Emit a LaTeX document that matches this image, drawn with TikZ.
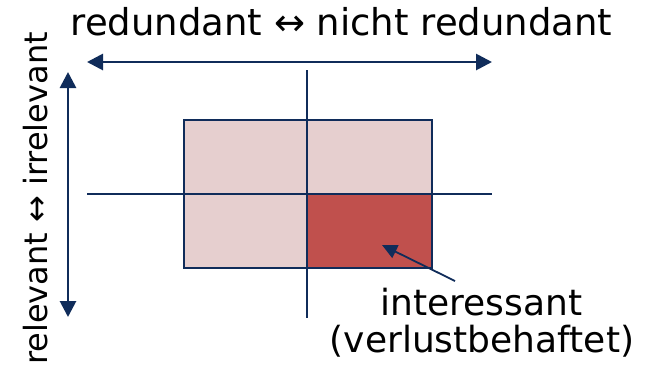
\documentclass[tikz,border=0pt]{standalone}
\usepackage{fontspec}
\setmainfont{DejaVu Sans}
\usetikzlibrary{arrows.meta}
\definecolor{navy}{RGB}{16,44,90}
\definecolor{lightred}{RGB}{230,207,207}
\definecolor{darkred}{RGB}{192,80,77}
\tikzset{
  bigarrow/.style={draw=navy, line width=2.8pt, {Triangle[length=16pt,width=16pt]}-{Triangle[length=16pt,width=16pt]}},
  gridline/.style={draw=navy, line width=1.8pt},
  pointer/.style={draw=navy, line width=1.8pt, -{Triangle[length=15pt,width=14pt]}},
  lbl/.style={font=\fontsize{36}{37}\selectfont, inner sep=0pt, text=black},
  toplbl/.style={font=\fontsize{37}{38}\selectfont, inner sep=0pt, text=black},
  sidelbl/.style={font=\fontsize{32}{33}\selectfont, inner sep=0pt, text=black}
}
\begin{document}
\begin{tikzpicture}[x=1pt,y=-1pt]
\useasboundingbox (0,0) rectangle (650,368);
% cells
\fill[lightred] (184,120) rectangle (432,268);
\fill[darkred] (307,194) rectangle (432,268);
\draw[gridline] (184,120) rectangle (432,268);
\coordinate (vt) at (307,70);
\coordinate (vb) at (307,318);
\coordinate (hlft) at (87,194);
\coordinate (hrgt) at (492,194);
\draw[gridline] (vt) -- (vb);
\draw[gridline] (hlft) -- (hrgt);
% axes
\coordinate (al) at (87,62);
\coordinate (ar) at (492,62);
\coordinate (at) at (68,72);
\coordinate (ab) at (68,317);
\draw[bigarrow] (al) -- (ar);
\draw[bigarrow] (at) -- (ab);
% labels
\node[toplbl, anchor=base] (top) at (341.5,35) {redundant ↔ nicht redundant};
\node[sidelbl, anchor=base, rotate=90] (side) at (47,198.5) {relevant ↔ irrelevant};
\node[lbl, anchor=base] (int1) at (481.5,315) {interessant};
\node[lbl, anchor=base] (int2) at (482,352) {(verlustbehaftet)};
\coordinate (ptail) at (455,281);
\coordinate (phead) at (382,245);
\draw[pointer] (ptail) -- (phead);
\end{tikzpicture}
\end{document}
